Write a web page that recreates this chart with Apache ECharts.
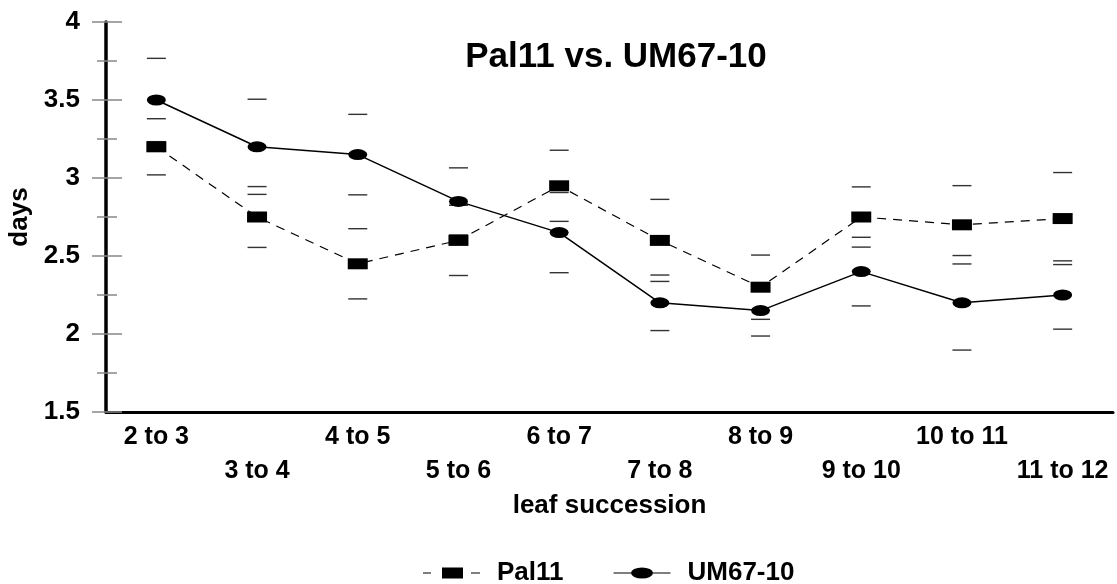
<!DOCTYPE html>
<html>
<head>
<meta charset="utf-8">
<script src="https://cdn.jsdelivr.net/npm/echarts@6/dist/echarts.min.js"></script>
<style>
  html, body { margin: 0; padding: 0; background: #fff; }
  #leaf-chart { width: 1117px; height: 584px; }
</style>
</head>
<body>
<div id="leaf-chart"></div>
<script>
// leaf succession intervals
const categories = ["2 to 3", "3 to 4", "4 to 5", "5 to 6", "6 to 7", "7 to 8", "8 to 9", "9 to 10", "10 to 11", "11 to 12"];
// mean days and +/- error
const pal11 = [3.2, 2.75, 2.45, 2.6, 2.95, 2.6, 2.3, 2.75, 2.7, 2.74];
const pal11Err = [0.18, 0.195, 0.225, 0.225, 0.228, 0.263, 0.206, 0.193, 0.251, 0.295];
const um6710 = [3.5, 3.2, 3.15, 2.85, 2.65, 2.2, 2.15, 2.4, 2.2, 2.25];
const um6710Err = [0.267, 0.305, 0.258, 0.215, 0.257, 0.178, 0.163, 0.22, 0.303, 0.219];

const font = "'Liberation Sans', Arial, sans-serif";
const ellipse = "path://M0,5A9.5,5 0 1,1 19,5A9.5,5 0 1,1 0,5Z";
// legend icons: marker with a bit of line on both sides
const palIcon = "path://M0,4.9H8V6.1H0Z M19,0H40V11H19Z M48,4.9H57V6.1H48Z";
const umIcon = "path://M0,4.9H18V6.1H0Z M17.5,5.5A11,5.5 0 1,1 39.5,5.5A11,5.5 0 1,1 17.5,5.5Z M39,4.9H57V6.1H39Z";

function errData(mean, err) {
  return mean.map((m, i) => [i, m - err[i], m + err[i]]);
}

// only the caps are drawn, no vertical whisker
function renderCaps(params, api) {
  const i = api.value(0);
  const lo = api.coord([i, api.value(1)]);
  const hi = api.coord([i, api.value(2)]);
  const w = 19;
  const style = { stroke: "#333", lineWidth: 1.4 };
  return {
    type: "group",
    children: [
      { type: "line", shape: { x1: lo[0] - w / 2, y1: lo[1], x2: lo[0] + w / 2, y2: lo[1] }, style: style },
      { type: "line", shape: { x1: hi[0] - w / 2, y1: hi[1], x2: hi[0] + w / 2, y2: hi[1] }, style: style },
    ],
  };
}

let myChart = echarts.init(document.getElementById("leaf-chart"));
myChart.setOption({
  animation: false,
  textStyle: { fontFamily: font },
  title: {
    text: "Pal11 vs. UM67-10",
    left: 611,
    top: 35,
    textAlign: "center",
    textStyle: { fontFamily: font, fontSize: 35, fontWeight: "bold", color: "#000" },
  },
  legend: {
    data: [
      { name: "Pal11", icon: palIcon },
      { name: "UM67-10", icon: umIcon },
    ],
    left: 418,
    top: 555,
    itemWidth: 57,
    itemHeight: 11,
    itemGap: 50,
    symbolKeepAspect: false,
    textStyle: { fontFamily: font, fontSize: 26, fontWeight: "bold", color: "#000", padding: [0, 0, 0, 12] },
  },
  grid: {
    left: 106,
    right: 4,
    top: 22,
    bottom: 172,
    outerBoundsMode: "none",
  },
  xAxis: [
    {
      type: "category",
      data: categories,
      boundaryGap: true,
      name: "leaf succession",
      nameLocation: "middle",
      nameGap: 76,
      nameTextStyle: { fontFamily: font, fontSize: 26, fontWeight: "bold", color: "#000" },
      axisLine: { lineStyle: { color: "#000", width: 3 } },
      axisTick: { alignWithLabel: true, length: 8, lineStyle: { color: "#888", width: 1.5 } },
      axisLabel: {
        interval: 0,
        margin: 8,
        fontFamily: font,
        fontSize: 25,
        fontWeight: "bold",
        color: "#000",
        lineHeight: 34,
        formatter: (v, i) => (i % 2 ? "\n" + v : v),
      },
    },
    {
      type: "category",
      data: categories,
      position: "bottom",
      boundaryGap: true,
      axisLine: { show: false },
      axisTick: { inside: true, alignWithLabel: true, length: 8, lineStyle: { color: "#888", width: 1.5 } },
      axisLabel: { show: false },
    },
  ],
  yAxis: [
    {
      type: "value",
      min: 1.5,
      max: 4,
      interval: 0.5,
      name: "days",
      nameLocation: "middle",
      nameGap: 71,
      nameTextStyle: { fontFamily: font, fontSize: 26, fontWeight: "bold", color: "#000" },
      axisLine: { show: true, lineStyle: { color: "#000", width: 3.5 } },
      axisTick: { show: true, length: 14, lineStyle: { color: "#888", width: 1.5 } },
      minorTick: { show: true, splitNumber: 2, length: 9, lineStyle: { color: "#888", width: 1.5 } },
      splitLine: { show: false },
      axisLabel: { margin: 26, fontFamily: font, fontSize: 26, fontWeight: "bold", color: "#000" },
    },
    {
      type: "value",
      position: "left",
      min: 1.5,
      max: 4,
      interval: 0.5,
      axisLine: { show: false },
      axisTick: { show: true, inside: true, length: 16, lineStyle: { color: "#888", width: 1.5 } },
      minorTick: { show: true, splitNumber: 2, length: 11, lineStyle: { color: "#888", width: 1.5 } },
      splitLine: { show: false },
      axisLabel: { show: false },
    },
  ],
  series: [
    {
      name: "Pal11 err",
      type: "custom",
      renderItem: renderCaps,
      data: errData(pal11, pal11Err),
      z: 1,
      silent: true,
    },
    {
      name: "UM67-10 err",
      type: "custom",
      renderItem: renderCaps,
      data: errData(um6710, um6710Err),
      z: 1,
      silent: true,
    },
    {
      name: "Pal11",
      type: "line",
      data: pal11,
      symbol: "rect",
      symbolSize: [20, 11],
      itemStyle: { color: "#000" },
      lineStyle: { color: "#000", width: 1.2, type: [9, 7] },
      z: 3,
    },
    {
      name: "UM67-10",
      type: "line",
      data: um6710,
      symbol: ellipse,
      symbolSize: [19, 11],
      itemStyle: { color: "#000" },
      lineStyle: { color: "#000", width: 1.5 },
      z: 3,
    },
  ],
});
</script>
</body>
</html>
